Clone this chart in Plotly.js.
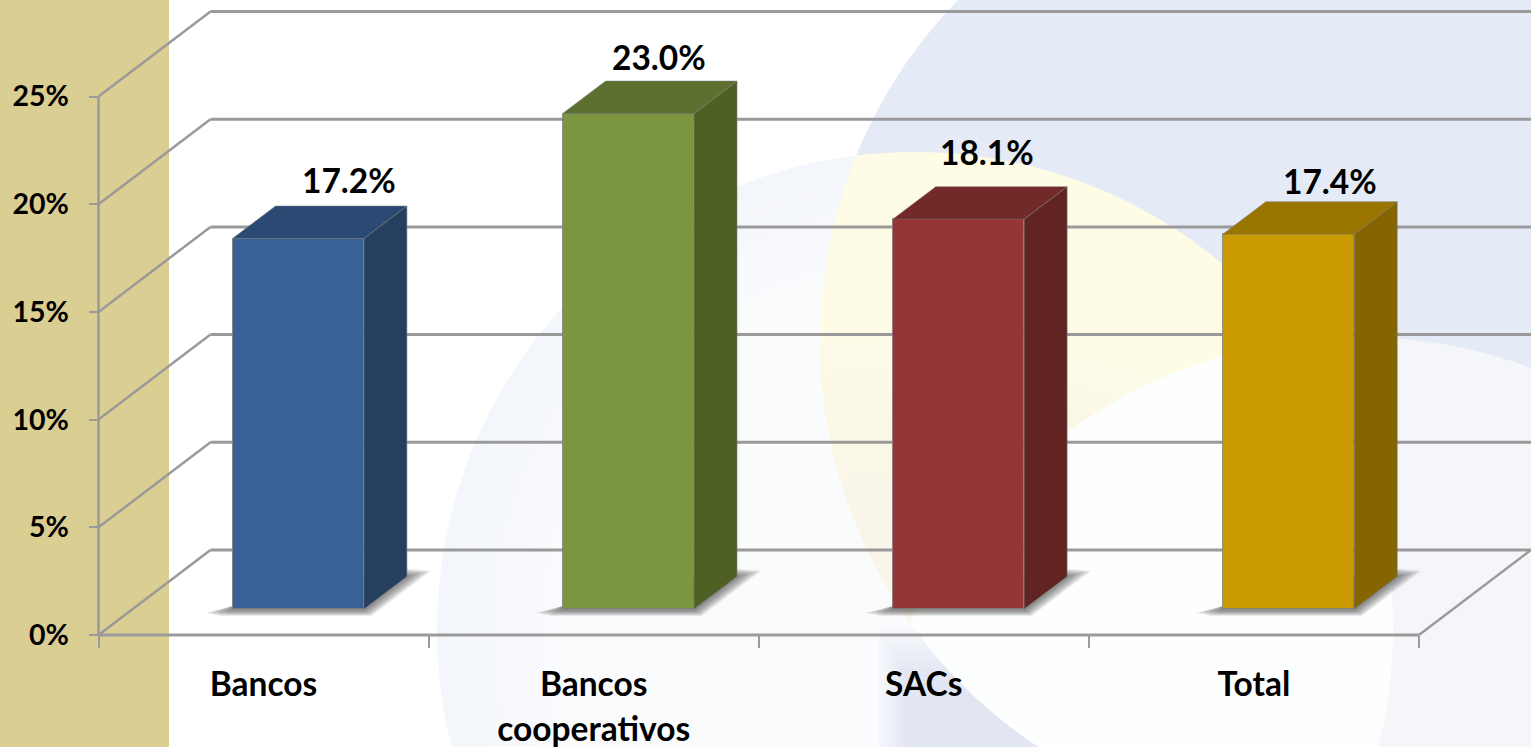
<!DOCTYPE html>
<html>
<head>
<meta charset="utf-8">
<script src="https://cdn.plot.ly/plotly-3.0.1.min.js"></script>
<style>html,body{margin:0;padding:0;background:#fff;overflow:hidden}#chart{width:1531px;height:747px}
text{font-variant-ligatures:none}</style>
</head>
<body>
<div id="chart"></div>
<script>
// ---- data ----
const categories = ["Bancos", "Bancos<br>cooperativos", "SACs", "Total"];
const values = [17.2, 23.0, 18.1, 17.4];
const valueLabels = ["17.2%", "23.0%", "18.1%", "17.4%"];
const yTicks = [0, 5, 10, 15, 20, 25];
const yTickLabels = ["0%", "5%", "10%", "15%", "20%", "25%"];
const xBoundaries = [0, 1, 2, 3, 4];

// ---- styles ----
const frontColors = ["#3A6195", "#7C963F", "#963535", "#CB9A00"];
const topColors = ["#2A4A73", "#5E7030", "#722A28", "#9A7500"];
const sideColors = ["#253F5F", "#4F6025", "#622323", "#846500"];
const labelShiftX = [51, 31, 29, 41];
const labelShiftY = [59, 57, 67, 53];

const W = 1531, H = 747;
const pxPerX = 330.1, pxPerY = 21.54, originX = 98.5, originY = 635;
const FONT = 'Lato, Carlito, "Open Sans", sans-serif';
const GRID = '#9A9A9A';
const dx = p => p / pxPerX, dy = p => p / pxPerY;      // pixel lengths -> data lengths
const barBase = dy(26), barOffset = 0.605, barWidth = 0.398;
const barX = i => i + barOffset;
const wallDX = dx(112), wallDY = dy(85);
const depthX = dx(43), depthY = dy(32.5);
const paperX = p => p / W, paperY = p => 1 - p / H;
const mix = (a, b, t) => 'rgb(' + a.map((c, i) => Math.round(c + (b[i] - c) * t)).join(',') + ')';

// ---- background discs (page pixels), convex intersections sampled as polygons ----
const discBlue = {x: 1308, y: 340, r: 488};
const discC = {x: 915, y: 630, r: 478};
const discD = {x: 1359, y: 832, r: 495};
function lens(discs) {
  const inside = (p, d) => (p[0]-d.x)**2 + (p[1]-d.y)**2 <= d.r*d.r + 0.5;
  let pts = [];
  discs.forEach(d => {
    for (let a = 0; a < 720; a++) {
      const t = a * Math.PI / 360, p = [d.x + d.r*Math.cos(t), d.y + d.r*Math.sin(t)];
      if (discs.every(o => o === d || inside(p, o))) pts.push(p);
    }
  });
  const cx = pts.reduce((s,p)=>s+p[0],0)/pts.length, cy = pts.reduce((s,p)=>s+p[1],0)/pts.length;
  pts.sort((a,b)=>Math.atan2(a[1]-cy,a[0]-cx)-Math.atan2(b[1]-cy,b[0]-cx));
  return 'M' + pts.map(p => paperX(p[0]).toFixed(5)+','+paperY(p[1]).toFixed(5)).join('L') + 'Z';
}
const bgShape = (discs, color) => ({type:'path', xref:'paper', yref:'paper', layer:'below',
  path: lens(discs), fillcolor: color, line:{width:0}});
const bgRect = (x0, x1, y0, y1, color) => ({type:'rect', xref:'paper', yref:'paper', layer:'below',
  x0: paperX(x0), x1: paperX(x1), y0: paperY(y1), y1: paperY(y0), fillcolor: color, line:{width:0}});

const shapes = [];
// pale disc fading inward
for (let k = 0; k < 10; k++) {
  shapes.push(bgShape([{x: discC.x, y: discC.y, r: discC.r - k * 12}], mix([243,246,251], [250,251,253], k / 9)));
}
// bluish wedge below the SACs label, fading in from the left and the top
for (let k = 0; k < 10; k++) {
  shapes.push(bgRect(878 + k * 3, 1100, 628 + k * 5, H, mix([246,248,252], [226,230,242], k / 9)));
}
shapes.push(bgShape([discBlue], '#E4EBF6'));
// pale yellow overlap, slightly duller toward the bottom
for (let k = 0; k < 8; k++) {
  const clip = k === 0 ? [discC, discBlue] : [discC, discBlue, {x: 915, y: 1120, r: 840 - k * 28}];
  shapes.push(bgShape(clip, mix([255,252,230], [249,245,232], k / 7)));
}
shapes.push(bgShape([discD, discBlue], '#F4F6FA'));
shapes.push(bgShape([discC, discD, discBlue], '#FDFEFE'));
shapes.push(bgRect(0, 169, 0, H, '#DBCE93'));

// walls: back gridlines + left diagonals, all driven by the y ticks
yTicks.forEach(v => {
  shapes.push({type:'line', layer:'below', xref:'x', yref:'y',
    x0: wallDX, x1: dx(W), y0: v + wallDY, y1: v + wallDY, line:{color:GRID, width:3}});
  shapes.push({type:'line', layer:'below', xref:'x', yref:'y',
    x0: 0, x1: wallDX, y0: v, y1: v + wallDY, line:{color:GRID, width:2.5}});
});
// y axis spine, floor front edge, right floor edge
shapes.push({type:'line', layer:'below', xref:'x', yref:'y', x0:0, x1:0, y0:0, y1:25, line:{color:GRID, width:2.5}});
shapes.push({type:'line', layer:'below', xref:'x', yref:'y', x0:0, x1:4, y0:0, y1:0, line:{color:GRID, width:3}});
shapes.push({type:'line', layer:'below', xref:'x', yref:'y', x0:4, x1:4+wallDX, y0:0, y1:wallDY, line:{color:GRID, width:2.5}});

// soft floor shadows: stacked translucent polygons from the outermost to the innermost
values.forEach((v, i) => {
  const L = barX(i) - barWidth/2, R = barX(i) + barWidth/2;
  const N = 16;
  for (let k = N; k >= 1; k--) {
    const t = k / N;
    const pts = [
      [L - dx(28*t), barBase - dy(1 + 3*t)],
      [L - dx(12*t), barBase - dy(1 + 6*t)],
      [R + dx(8*t), barBase - dy(1 + 6*t)],
      [R + depthX + dx(25*t), barBase + depthY + dy(6*t)],
      [R + depthX, barBase + depthY + dy(8*t)],
      [R, barBase + depthY],
      [L, barBase + dy(3)]
    ];
    shapes.push({type:'path', layer:'below', xref:'x', yref:'y',
      path: 'M' + pts.map(p => p[0]+','+p[1]).join('L') + 'Z',
      fillcolor:'rgba(70,70,70,0.055)', line:{width:0}});
  }
});

// ---- traces ----
const traces = [];
traces.push({type:'bar', x: values.map((_, i) => barX(i)), y: values, base: barBase, width: barWidth,
  marker:{color: frontColors, line:{color:'rgba(125,125,125,0.75)', width:1}},
  hoverinfo:'text', hovertext: valueLabels, showlegend:false});
values.forEach((v, i) => {
  const L = barX(i) - barWidth/2, R = barX(i) + barWidth/2, T = barBase + v;
  traces.push({type:'scatter', mode:'lines', fill:'toself', fillcolor: sideColors[i],
    x:[R, R + depthX, R + depthX, R, R], y:[barBase, barBase + depthY, T + depthY, T, barBase],
    line:{color:'rgba(120,120,120,0.6)', width:1}, hoverinfo:'skip', showlegend:false});
  traces.push({type:'scatter', mode:'lines', fill:'toself', fillcolor: topColors[i],
    x:[L, L + depthX, R + depthX, R, L], y:[T, T + depthY, T + depthY, T, T],
    line:{color:'rgba(120,120,120,0.5)', width:1}, hoverinfo:'skip', showlegend:false});
});
// invisible trace binding the second x axis (boundary ticks)
traces.push({type:'scatter', mode:'none', x: xBoundaries, y: xBoundaries.map(()=>0), xaxis:'x2', yaxis:'y', hoverinfo:'skip', showlegend:false});

const annotations = values.map((v, i) => ({
  xref:'x', yref:'y', x: barX(i), y: barBase + v, text: valueLabels[i], showarrow:false,
  xanchor:'center', yanchor:'middle', xshift: labelShiftX[i], yshift: labelShiftY[i],
  font:{family:FONT, size:33.5, color:'#000', weight:700}
}));

const xRange = [-originX/pxPerX, (W-originX)/pxPerX];
const yRange = [(originY-H)/pxPerY, originY/pxPerY];
const axisPos = (H-originY)/H;
const layout = {
  width:W, height:H, margin:{l:0,r:0,t:0,b:0,pad:0}, autosize:false, showlegend:false,
  paper_bgcolor:'#FFFFFF', plot_bgcolor:'rgba(0,0,0,0)', bargap:0, hovermode:'closest',
  xaxis:{range:xRange, domain:[0,1], anchor:'free', position:axisPos, showgrid:false, zeroline:false, showline:false,
    tickmode:'array', tickvals:categories.map((_,i)=>i+0.5),
    ticktext:categories.map(c=>c.split('<br>').map(s=>'<span style="font-size:33.5px">'+s+'</span>').join('<br>')),
    ticks:'outside', ticklen:18, tickcolor:'rgba(0,0,0,0)', tickwidth:1,
    tickfont:{family:FONT, size:34.6, color:'#000', weight:700}, fixedrange:true},
  xaxis2:{range:xRange, domain:[0,1], anchor:'free', position:axisPos, overlaying:'x', showgrid:false, zeroline:false, showline:false,
    tickmode:'array', tickvals:xBoundaries, ticktext:xBoundaries.map(()=>''),
    ticks:'outside', ticklen:12, tickcolor:GRID, tickwidth:2, fixedrange:true},
  yaxis:{range:yRange, domain:[0,1], anchor:'free', position:originX/W, showgrid:false, zeroline:false, showline:false,
    tickmode:'array', tickvals:yTicks, ticktext:yTickLabels,
    ticks:'outside', ticklen:10, tickcolor:GRID, tickwidth:2, ticklabelstandoff:14,
    tickfont:{family:FONT, size:28.5, color:'#000', weight:700}, fixedrange:true},
  shapes, annotations
};
Plotly.newPlot('chart', traces, layout, {displayModeBar:false, responsive:false});
</script>
</body>
</html>
